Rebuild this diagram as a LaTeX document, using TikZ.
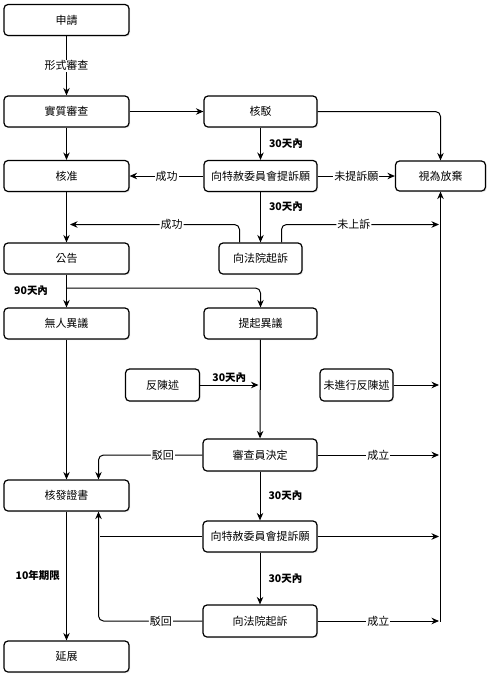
\documentclass[tikz,border=0pt]{standalone}
\usepackage{fontspec}
\setmainfont{Noto Sans CJK TC}
\usetikzlibrary{arrows.meta,shadows,calc}
\begin{document}
\begin{tikzpicture}[x=1pt,y=-1pt,
  font=\fontsize{11}{12}\selectfont,
  box/.style={draw=black,line width=1.2pt,rounded corners=4pt,fill=white,
    minimum height=31pt,inner sep=1pt,
    drop shadow={opacity=0.2,shadow xshift=1.2pt,shadow yshift=-1.2pt}},
  arr/.style={draw=black,line width=1pt,-{Stealth[length=7.5pt,width=6.5pt]}},
  ln/.style={draw=black,line width=1pt},
  lbl/.style={fill=white,inner sep=1pt,font=\fontsize{11}{12}\selectfont},
  blbl/.style={inner sep=1pt,font=\bfseries\fontsize{10.5}{12}\selectfont}]
\useasboundingbox (0,0) rectangle (491,678);
% left column
\node[box,minimum width=125pt] (sq) at (66.5,20) {申請};
\node[box,minimum width=125pt] (sz) at (66.5,111.5) {實質審查};
\node[box,minimum width=125pt] (hz) at (66.5,176) {核准};
\node[box,minimum width=125pt] (gg) at (66.5,258.5) {公告};
\node[box,minimum width=125pt] (wr) at (66.5,323.5) {無人異議};
\node[box,minimum width=125pt] (zs) at (66.5,495.5) {核發證書};
\node[box,minimum width=125pt] (yz) at (66.5,656.5) {延展};
% middle column
\node[box,minimum width=113pt] (hb) at (260.5,111.5) {核駁};
\node[box,minimum width=113pt] (sy1) at (260.5,176) {向特赦委員會提訴願};
\node[box,minimum width=83pt] (fy1) at (260.5,258.5) {向法院起訴};
\node[box,minimum width=113pt] (ty) at (260.5,323.5) {提起異議};
\node[box,minimum width=74pt,minimum height=32pt] (fcs) at (162.5,385) {反陳述};
\node[box,minimum width=73pt,minimum height=32pt] (wjx) at (356.5,385) {未進行反陳述};
\node[box,minimum width=114pt,minimum height=32pt] (scy) at (260,455) {審查員決定};
\node[box,minimum width=114pt] (sy2) at (260,536.5) {向特赦委員會提訴願};
\node[box,minimum width=114pt,minimum height=32pt] (fy2) at (260,621) {向法院起訴};
% right
\node[box,minimum width=90pt,minimum height=30pt] (fq) at (440.5,176) {視為放棄};
% coordinates
\coordinate (c1) at (70,224.5);
\coordinate (c2) at (439,224.5);
\coordinate (j1) at (66.5,288);
\coordinate (j2) at (258.5,385);
\coordinate (r1) at (439,385);
\coordinate (r2) at (439,455);
\coordinate (r3) at (439,536.5);
\coordinate (r4) at (439,621);
\coordinate (rb) at (440.5,621.5);
\coordinate (k1) at (100,536.5);
% connectors
\draw[arr] (sq) -- node[lbl]{形式審查} (sz);
\draw[arr] (sz) -- (hb);
\draw[arr] (sz) -- (hz);
\draw[arr,rounded corners=5pt] (hb.east) -| (fq.north);
\draw[arr] (hb) -- node[blbl,right=7pt]{30天內} (sy1);
\draw[arr] (sy1) -- node[lbl]{成功} (hz);
\draw[arr] (sy1) -- node[lbl]{未提訴願} (fq);
\draw[arr] (sy1) -- node[blbl,right=7pt,pos=0.3]{30天內} (fy1);
\draw[arr,rounded corners=5pt] ([xshift=-21pt]fy1.north) |- node[lbl,pos=0.7]{成功} (c1);
\draw[arr,rounded corners=5pt] ([xshift=21pt]fy1.north) |- node[lbl,pos=0.73]{未上訴} (c2);
\draw[arr] (hz) -- (gg);
\draw[arr] (gg) -- node[blbl,left=17pt]{90天內} (wr);
\draw[arr,rounded corners=5pt] (j1) -| (ty.north);
\draw[arr] (ty) -- (scy);
\draw[arr] (fcs) -- node[blbl,above=1pt]{30天內} (j2);
\draw[arr] (wjx) -- (r1);
\draw[arr] (wr) -- (zs);
\draw[arr,rounded corners=5pt] (scy.west) -| node[lbl,pos=0.19]{駁回} ([xshift=32pt]zs.north);
\draw[arr] (scy) -- node[lbl]{成立} (r2);
\draw[arr] (scy) -- node[blbl,right=7pt]{30天內} (sy2);
\draw[arr] (sy2) -- (r3);
\draw[ln] (sy2.west) -- (k1);
\draw[arr] (sy2) -- node[blbl,right=7pt]{30天內} (fy2);
\draw[arr,rounded corners=5pt] (fy2.west) -| node[lbl,pos=0.2]{駁回} ([xshift=32pt]zs.south);
\draw[arr] (fy2) -- node[lbl]{成立} (r4);
\draw[arr] (rb) -- (fq.south);
\draw[arr] (zs) -- node[blbl,left=5pt]{10年期限} (yz);
\end{tikzpicture}
\end{document}
